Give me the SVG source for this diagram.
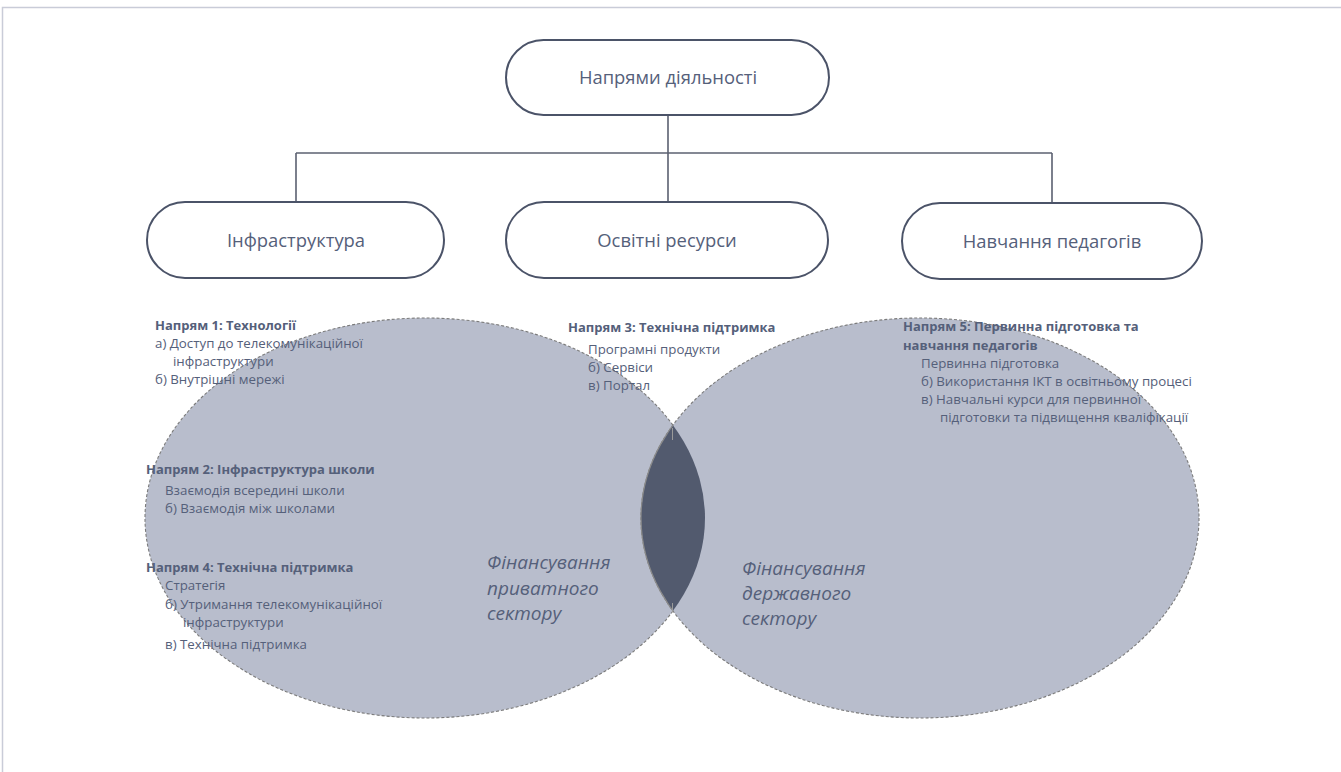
<svg xmlns="http://www.w3.org/2000/svg" width="1341" height="772" viewBox="0 0 1341 772">
<style>
.frame{fill:none;stroke:#c9ccd8;stroke-width:1.5}
.node rect{fill:#ffffff;stroke:#4b5368;stroke-width:2}
.node text{font-family:"Open Sans","Noto Sans",sans-serif;font-size:18.4px;fill:#55607a;text-anchor:middle}
.conn line{stroke:#5b6070;stroke-width:1.6}
.ell{fill:#b8bdcc;stroke:#7b7b7b;stroke-width:1.1;stroke-dasharray:3 2}
.lens{fill:#525a6e;stroke:#8a8a8a;stroke-width:1.2}
.t{font-family:"Open Sans","Noto Sans",sans-serif;font-size:13.3px;fill:#55607a}
.b{font-weight:bold;font-size:13px}
.it{font-family:"Open Sans","Noto Sans",sans-serif;font-size:19px;font-style:italic;fill:#55607a}
</style>
<defs>
<clipPath id="clipL"><ellipse cx="425" cy="518" rx="280" ry="200"/></clipPath>
</defs>
<path class="frame" d="M2.5,772 V7.5 H1341"/>

<g id="venn">
<ellipse class="ell" cx="425" cy="518" rx="280" ry="200"/>
<ellipse class="ell" cx="920" cy="518" rx="279" ry="200"/>
<ellipse class="lens" cx="920" cy="518" rx="279" ry="200" clip-path="url(#clipL)"/>
<line x1="672.5" y1="428" x2="672.5" y2="440" stroke="#9a9a9a" stroke-width="1"/>
<line x1="672.5" y1="603" x2="672.5" y2="612" stroke="#9a9a9a" stroke-width="1"/>
</g>

<g class="conn" id="connectors">
<line x1="668" y1="115" x2="668" y2="153"/>
<line x1="296" y1="153" x2="1052" y2="153"/>
<line x1="296" y1="153" x2="296" y2="202"/>
<line x1="668" y1="153" x2="668" y2="202"/>
<line x1="1052" y1="153" x2="1052" y2="203"/>
</g>

<g class="node" id="n-top">
<rect x="506" y="40" width="323" height="75" rx="37.5" ry="37.5"/>
<text x="668" y="84">Напрями діяльності</text>
</g>
<g class="node" id="n-infra">
<rect x="147" y="202" width="297" height="76" rx="38" ry="38"/>
<text x="296" y="247">Інфраструктура</text>
</g>
<g class="node" id="n-res">
<rect x="506" y="202" width="322" height="76" rx="38" ry="38"/>
<text x="667" y="247">Освітні ресурси</text>
</g>
<g class="node" id="n-teach">
<rect x="902" y="203" width="300" height="76" rx="38" ry="38"/>
<text x="1052" y="248">Навчання педагогів</text>
</g>

<g id="g1">
<text class="t b" x="155" y="330">Напрям 1: Технології</text>
<text class="t" x="155" y="348">а) Доступ до телекомунікаційної</text>
<text class="t" x="173" y="366">інфраструктури</text>
<text class="t" x="155" y="384">б) Внутрішні мережі</text>
</g>
<g id="g2">
<text class="t b" x="146" y="474">Напрям 2: Інфраструктура школи</text>
<text class="t" x="165" y="495">Взаємодія всередині школи</text>
<text class="t" x="165" y="513">б) Взаємодія між школами</text>
</g>
<g id="g4">
<text class="t b" x="146" y="572">Напрям 4: Технічна підтримка</text>
<text class="t" x="165" y="590">Стратегія</text>
<text class="t" x="165" y="609">б) Утримання телекомунікаційної</text>
<text class="t" x="183" y="627">інфраструктури</text>
<text class="t" x="165" y="649">в) Технічна підтримка</text>
</g>
<g id="g3">
<text class="t b" x="568" y="332">Напрям 3: Технічна підтримка</text>
<text class="t" x="588" y="354">Програмні продукти</text>
<text class="t" x="588" y="372">б) Сервіси</text>
<text class="t" x="588" y="390">в) Портал</text>
</g>
<g id="g5">
<text class="t b" x="903" y="331">Напрям 5: Первинна підготовка та</text>
<text class="t b" x="903" y="350">навчання педагогів</text>
<text class="t" x="921" y="368">Первинна підготовка</text>
<text class="t" x="921" y="386">б) Використання ІКТ в освітньому процесі</text>
<text class="t" x="921" y="404">в) Навчальні курси для первинної</text>
<text class="t" x="940" y="422">підготовки та підвищення кваліфікації</text>
</g>

<g id="labels">
<text class="it" x="487" y="569">Фінансування</text>
<text class="it" x="487" y="595">приватного</text>
<text class="it" x="487" y="620">сектору</text>
<text class="it" x="742" y="575">Фінансування</text>
<text class="it" x="742" y="600">державного</text>
<text class="it" x="742" y="625">сектору</text>
</g>
</svg>
